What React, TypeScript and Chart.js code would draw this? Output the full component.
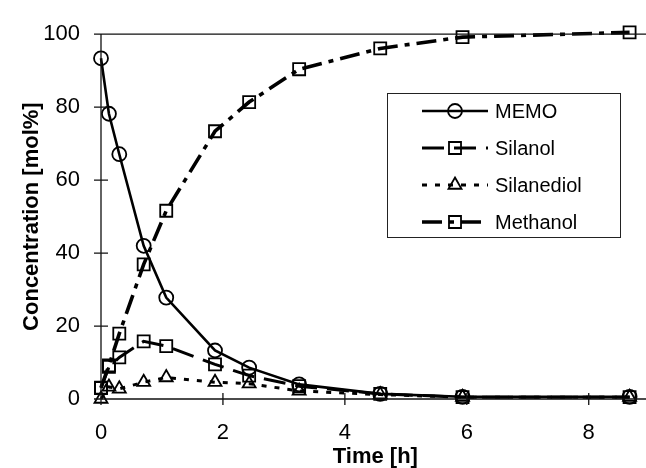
import React, { useEffect, useRef } from "react";
import { Chart, registerables } from "chart.js";

Chart.register(...registerables);

const times = [0, 0.13, 0.3, 0.7, 1.07, 1.87, 2.43, 3.25, 4.58, 5.93, 8.67];
const memo = [93.4, 78.2, 67.1, 42.0, 27.8, 13.3, 8.6, 4.0, 1.4, 0.6, 0.6];
const silanol = [3.0, 8.8, 11.4, 15.8, 14.5, 9.5, 6.4, 3.5, 1.4, 0.5, 0.5];
const silanediol = [0, 3.3, 2.8, 4.6, 5.9, 4.6, 4.2, 2.2, 1.2, 0.5, 0.5];
const methanol = [3.1, 9.2, 17.9, 36.9, 51.6, 73.4, 81.4, 90.4, 96.1, 99.2, 100.5];

const xTicks = [0, 2, 4, 6, 8];
const yTicks = [0, 20, 40, 60, 80, 100];
const seriesNames = ["MEMO", "Silanol", "Silanediol", "Methanol"];

const FONT = "'Liberation Sans', Arial, sans-serif";

const axesPlugin = {
  id: "crossAxes",
  afterDraw(chart: any) {
    const { ctx, chartArea } = chart;
    const xs = chart.scales.x;
    const ys = chart.scales.y;
    ctx.save();
    ctx.strokeStyle = "#111";
    ctx.lineWidth = 1.3;
    ctx.setLineDash([]);
    ctx.beginPath();
    ctx.moveTo(chartArea.left, chartArea.top);
    ctx.lineTo(chartArea.left, chartArea.bottom);
    ctx.moveTo(chartArea.left - 7, chartArea.bottom);
    ctx.lineTo(chartArea.right, chartArea.bottom);
    ctx.moveTo(chartArea.left - 7, chartArea.top);
    ctx.lineTo(chartArea.right, chartArea.top);
    for (const v of yTicks) {
      const py = ys.getPixelForValue(v);
      ctx.moveTo(chartArea.left - 7, py);
      ctx.lineTo(chartArea.left + 7, py);
    }
    for (const v of xTicks) {
      const px = xs.getPixelForValue(v);
      ctx.moveTo(px, chartArea.bottom - 6);
      ctx.lineTo(px, chartArea.bottom + 6);
    }
    ctx.stroke();
    ctx.restore();
  },
};

const legendPlugin = {
  id: "boxLegend",
  afterDraw(chart: any) {
    const { ctx } = chart;
    const bx = 387, by = 93, bw = 233, bh = 144;
    ctx.save();
    ctx.setLineDash([]);
    ctx.lineWidth = 1;
    ctx.strokeStyle = "#222";
    ctx.fillStyle = "#fff";
    ctx.fillRect(bx, by, bw, bh);
    ctx.strokeRect(bx + 0.5, by + 0.5, bw, bh);
    const rows = [111, 148, 185, 222];
    chart.data.datasets.forEach((ds: any, i: number) => {
      const y = rows[i];
      ctx.save();
      ctx.strokeStyle = "#000";
      ctx.lineWidth = ds.borderWidth;
      ctx.setLineDash(ds.borderDash || []);
      ctx.beginPath();
      ctx.moveTo(422, y);
      ctx.lineTo(488, y);
      ctx.stroke();
      ctx.setLineDash([]);
      ctx.lineWidth = ds.pointBorderWidth;
      const r = ds.pointRadius;
      ctx.beginPath();
      if (ds.pointStyle === "circle") {
        ctx.arc(455, y, r, 0, Math.PI * 2);
      } else if (ds.pointStyle === "rect") {
        const s = Math.SQRT1_2 * r;
        ctx.rect(455 - s, y - s, 2 * s, 2 * s);
      } else if (ds.pointStyle === "triangle") {
        const a = -Math.PI / 2;
        ctx.moveTo(455 + Math.cos(a) * r, y + Math.sin(a) * r);
        ctx.lineTo(455 + Math.cos(a + (2 * Math.PI) / 3) * r, y + Math.sin(a + (2 * Math.PI) / 3) * r);
        ctx.lineTo(455 + Math.cos(a + (4 * Math.PI) / 3) * r, y + Math.sin(a + (4 * Math.PI) / 3) * r);
        ctx.closePath();
      }
      ctx.stroke();
      ctx.restore();
      ctx.fillStyle = "#000";
      ctx.font = `20px ${FONT}`;
      ctx.textBaseline = "middle";
      ctx.textAlign = "left";
      ctx.fillText(ds.label, 495, y + 1);
    });
    ctx.restore();
  },
};

function pts(vals: number[]) {
  return times.map((t, i) => ({ x: t, y: vals[i] }));
}

export default function App() {
  const ref = useRef<HTMLCanvasElement>(null);
  useEffect(() => {
    if (!ref.current) return;
    const common = {
      borderColor: "#000",
      pointBorderColor: "#000",
      pointBackgroundColor: "rgba(0,0,0,0)",
      pointBorderWidth: 1.8,
      tension: 0,
      clip: false as any,
      fill: false,
    };
    const chart = new Chart(ref.current, {
      type: "line",
      data: {
        datasets: [
          { ...common, label: seriesNames[0], data: pts(memo), borderWidth: 2.6, borderDash: [], pointStyle: "circle", pointRadius: 7 },
          { ...common, label: seriesNames[1], data: pts(silanol), borderWidth: 3, borderDash: [22, 10], pointStyle: "rect", pointRadius: 8.5 },
          { ...common, label: seriesNames[2], data: pts(silanediol), borderWidth: 3, borderDash: [5, 8], pointStyle: "triangle", pointRadius: 7.5 },
          { ...common, label: seriesNames[3], data: pts(methanol), borderWidth: 3.6, borderDash: [20, 7, 5, 7], pointStyle: "rect", pointRadius: 8.5 },
        ] as any,
      },
      options: {
        animation: false,
        responsive: false,
        layout: { padding: { top: 22, right: 10, bottom: 0, left: 0 } },
        plugins: { legend: { display: false }, tooltip: { enabled: false } },
        scales: {
          x: {
            type: "linear",
            min: 0,
            max: 9,
            grid: { display: false, drawTicks: false },
            border: { display: false },
            afterBuildTicks: (s: any) => { s.ticks = xTicks.map((v) => ({ value: v })); },
            afterFit: (s: any) => { s.height = 69; },
            ticks: { color: "#000", font: { family: FONT, size: 22 }, padding: 21, maxRotation: 0 },
            title: { display: true, text: "Time [h]", color: "#000", font: { family: FONT, size: 22, weight: "bold", lineHeight: 1 }, padding: { top: 0, bottom: 0 } },
          },
          y: {
            type: "linear",
            min: 0,
            max: 100,
            grid: { display: false, drawTicks: false },
            border: { display: false },
            afterBuildTicks: (s: any) => { s.ticks = yTicks.map((v) => ({ value: v })); },
            afterFit: (s: any) => { s.width = 101; },
            ticks: { color: "#000", font: { family: FONT, size: 22 }, padding: 21 },
            title: { display: true, text: "Concentration [mol%]", color: "#000", font: { family: FONT, size: 22, weight: "bold", lineHeight: 1 }, padding: { top: 21, bottom: 0 } },
          },
        },
      } as any,
      plugins: [axesPlugin, legendPlugin],
    });
    return () => chart.destroy();
  }, []);
  return (
    <div style={{ position: "fixed", left: 0, top: 0, width: 646, height: 468, overflow: "hidden", background: "#fff" }}>
      <canvas ref={ref} width={660} height={468} style={{ display: "block", width: 660, height: 468 }} />
    </div>
  );
}
